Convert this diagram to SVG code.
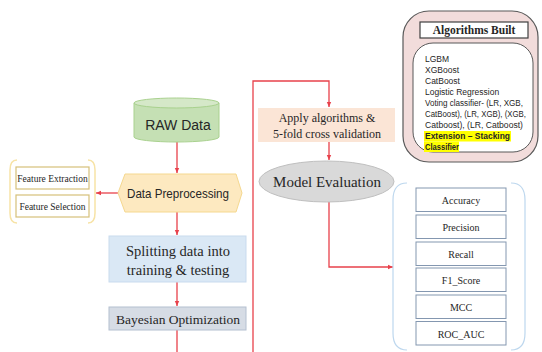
<svg xmlns="http://www.w3.org/2000/svg" width="542" height="352" viewBox="0 0 542 352">
<style>
.serif{font-family:"Liberation Serif","Times New Roman",serif;fill:#262626}
.sans{font-family:"Liberation Sans",Arial,sans-serif;fill:#262626}
.conn{fill:none;stroke:#e8414b;stroke-width:1.3}
.metric{fill:#fff;stroke:#8497b0;stroke-width:1}
.feat{fill:#fff;stroke:#d6c07a;stroke-width:1.2}
</style>
<defs>
<marker id="ah" markerWidth="6" markerHeight="6" refX="5" refY="3" orient="auto" markerUnits="userSpaceOnUse">
<path d="M0,0.8 L5,3 L0,5.2 Z" fill="#e8414b"/>
</marker>
</defs>
<rect width="542" height="352" fill="#fff"/>

<g id="connectors">
<path class="conn" d="M177,142 V173" marker-end="url(#ah)"/>
<path class="conn" d="M118,193 H96" marker-end="url(#ah)"/>
<path class="conn" d="M177,212 V235" marker-end="url(#ah)"/>
<path class="conn" d="M177,282 V306" marker-end="url(#ah)"/>
<path class="conn" d="M177,330 V352"/>
<path class="conn" d="M253,352 V81 H329 V107" marker-end="url(#ah)"/>
<path class="conn" d="M329,142 V160" marker-end="url(#ah)"/>
<path class="conn" d="M329,202 V267 H393" marker-end="url(#ah)"/>
</g>

<g id="raw-data">
<path d="M134,103 V137 A42.5,5 0 0 0 219,137 V103" fill="#c5e0b4" stroke="#a9d18e" stroke-width="1"/>
<ellipse cx="176.5" cy="103" rx="42.5" ry="5" fill="#d5e8c8" stroke="#a9d18e" stroke-width="1"/>
<text class="sans" x="178" y="130" font-size="14" text-anchor="middle">RAW Data</text>
</g>

<g id="data-preprocessing">
<polygon points="118,193 125,174 236,174 242,193 236,212 125,212" fill="#fde9c0" stroke="#f5d88f" stroke-width="1"/>
<text class="sans" x="178" y="198" font-size="13.5" text-anchor="middle" textLength="102" lengthAdjust="spacingAndGlyphs">Data Preprocessing</text>
</g>

<g id="feature-group">
<path d="M17,160 Q10,160 10,170 V213 Q10,223 17,223" fill="none" stroke="#f7e3a6" stroke-width="1.5"/>
<path d="M88,160 Q95,160 95,170 V213 Q95,223 88,223" fill="none" stroke="#f7e3a6" stroke-width="1.5"/>
<rect class="feat" x="16" y="167" width="73" height="22"/>
<text class="serif" x="52.5" y="181.5" font-size="9.5" text-anchor="middle">Feature Extraction</text>
<rect class="feat" x="16" y="195" width="73" height="22"/>
<text class="serif" x="52.5" y="209.5" font-size="9.5" text-anchor="middle">Feature Selection</text>
</g>

<g id="splitting">
<rect x="109" y="236" width="137" height="46" fill="#dae8f5" stroke="#c9dbee" stroke-width="1"/>
<text class="serif" x="178" y="256" font-size="14.5" text-anchor="middle">Splitting data into</text>
<text class="serif" x="178" y="275" font-size="14.5" text-anchor="middle">training &amp; testing</text>
</g>

<g id="bayesian">
<rect x="109" y="307" width="137" height="23" fill="#d6dce5" stroke="#b4c0d0" stroke-width="1"/>
<text class="serif" x="178" y="323.5" font-size="13.5" text-anchor="middle">Bayesian Optimization</text>
</g>

<g id="apply">
<rect x="258" y="108" width="137" height="34" fill="#fbe5d6"/>
<text class="serif" x="327" y="122" font-size="12" text-anchor="middle">Apply algorithms &amp;</text>
<text class="serif" x="327" y="137.5" font-size="12" text-anchor="middle">5-fold cross validation</text>
</g>

<g id="model-evaluation">
<ellipse cx="326.5" cy="181.5" rx="67.5" ry="20.5" fill="#d9d9d9" stroke="#bfbfbf" stroke-width="1"/>
<text class="serif" x="327" y="187" font-size="15" text-anchor="middle">Model Evaluation</text>
</g>

<g id="algorithms-built">
<rect x="403" y="11" width="135" height="151" rx="26" fill="#f2dcdb" stroke="#595959" stroke-width="1.2"/>
<rect x="420" y="22" width="108" height="16" fill="#fff" stroke="#404040" stroke-width="1.2"/>
<text class="serif" x="474" y="34" font-size="11.5" font-weight="bold" text-anchor="middle">Algorithms Built</text>
<rect x="413" y="43" width="120" height="109" rx="20" fill="#fff" stroke="#595959" stroke-width="1"/>
<rect x="424" y="131" width="87" height="10.5" fill="#ffff00"/>
<rect x="424" y="141.5" width="35" height="10.5" fill="#ffff00"/>
<g class="sans" font-size="8.5">
<text x="425" y="62">LGBM</text>
<text x="425" y="73">XGBoost</text>
<text x="425" y="84">CatBoost</text>
<text x="425" y="95">Logistic Regression</text>
<text x="425" y="106" textLength="98" lengthAdjust="spacingAndGlyphs">Voting classifier- (LR, XGB,</text>
<text x="425" y="117" textLength="101" lengthAdjust="spacingAndGlyphs">CatBoost), (LR, XGB), (XGB,</text>
<text x="425" y="128" textLength="98" lengthAdjust="spacingAndGlyphs">Catboost), (LR, Catboost)</text>
<text x="425" y="139" font-weight="bold" textLength="85" lengthAdjust="spacingAndGlyphs">Extension – Stacking</text>
<text x="425" y="150" font-weight="bold" textLength="34" lengthAdjust="spacingAndGlyphs">Classifier</text>
</g>
</g>

<g id="metrics">
<path d="M407,183 Q393,183 393,200 V333 Q393,350 407,350" fill="none" stroke="#bdd7ee" stroke-width="1.2"/>
<path d="M511,183 Q525,183 525,200 V333 Q525,350 511,350" fill="none" stroke="#bdd7ee" stroke-width="1.2"/>
<rect class="metric" x="416" y="188" width="90" height="23.5"/>
<text class="serif" x="461" y="204" font-size="10" text-anchor="middle">Accuracy</text>
<rect class="metric" x="416" y="215" width="90" height="23.5"/>
<text class="serif" x="461" y="231" font-size="10" text-anchor="middle">Precision</text>
<rect class="metric" x="416" y="242" width="90" height="23.5"/>
<text class="serif" x="461" y="258" font-size="10" text-anchor="middle">Recall</text>
<rect class="metric" x="416" y="268" width="90" height="23.5"/>
<text class="serif" x="461" y="284" font-size="10" text-anchor="middle">F1_Score</text>
<rect class="metric" x="416" y="295" width="90" height="23.5"/>
<text class="serif" x="461" y="311" font-size="10" text-anchor="middle">MCC</text>
<rect class="metric" x="416" y="321.5" width="90" height="23.5"/>
<text class="serif" x="461" y="337.5" font-size="10" text-anchor="middle">ROC_AUC</text>
</g>
</svg>
